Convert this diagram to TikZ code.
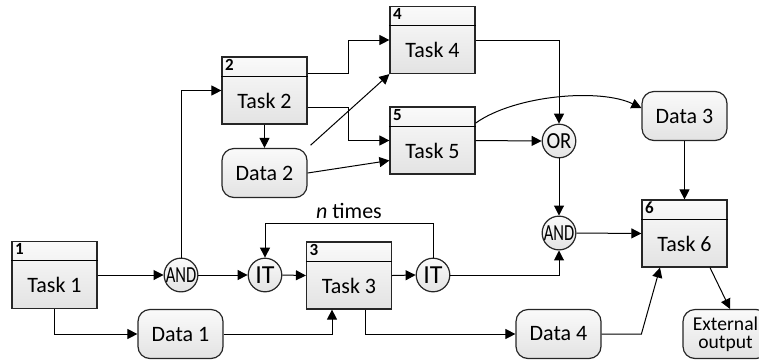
\documentclass[tikz,border=0pt]{standalone}
\usepackage{fontspec}
\setmainfont{Carlito}
\usepackage{graphicx}
\usetikzlibrary{calc,arrows.meta}

\tikzset{
  box/.style={draw=black!85, line width=0.6pt, top color=gray!4, bottom color=gray!22},
  task/.style={box, minimum width=42.5pt, minimum height=33.5pt, inner sep=0pt},
  data/.style={box, rounded corners=6pt, minimum width=42.5pt, minimum height=24.5pt,
    inner sep=0pt, align=center, font=\fontsize{11}{9.5}\selectfont},
  gate/.style={box, circle, minimum size=16.8pt, inner sep=0pt, font=\fontsize{11.5}{12}\selectfont},
  arr/.style={-{Triangle[length=5pt,width=5pt]}, line width=0.5pt},
}

% task box: name, position, number, text
\newcommand{\tasknode}[4]{%
  \node[task] (#1) at (#2) {};
  \draw[line width=0.5pt] ([yshift=-10pt]#1.north west) -- ([yshift=-10pt]#1.north east);
  \node[anchor=north west, inner xsep=1.6pt, inner ysep=1.2pt, font=\bfseries\fontsize{8.5}{9}\selectfont] (#1-num) at (#1.north west) {#3};
  \node[font=\fontsize{11}{12}\selectfont] (#1-txt) at ([yshift=-5pt]#1.center) {#4};
}

\begin{document}
\begin{tikzpicture}[x=0.5pt,y=-0.5pt]
\useasboundingbox (0,0) rectangle (759,360);

% tasks
\tasknode{t1}{54.5,275}{1}{Task 1}
\tasknode{t2}{264.5,90.5}{2}{Task 2}
\tasknode{t3}{349,275.5}{3}{Task 3}
\tasknode{t4}{432.5,40}{4}{Task 4}
\tasknode{t5}{432.5,140.5}{5}{Task 5}
\tasknode{t6}{684.5,233.5}{6}{Task 6}

% data
\node[data] (d1) at (180.5,334) {Data 1};
\node[data] (d2) at (264.5,173) {Data 2};
\node[data] (d3) at (684.5,116) {Data 3};
\node[data] (d4) at (558.5,334) {Data 4};
\node[data, font=\fontsize{9.8}{9}\selectfont] (ext) at (725.5,334) {External\\output};

% gates
\node[gate] (and1) at (181,275) {\scalebox{0.72}[1]{AND}};
\node[gate] (it1) at (265,275) {\fontsize{13}{13}\selectfont IT};
\node[gate] (it2) at (433,275) {\fontsize{13}{13}\selectfont IT};
\node[gate] (or) at (559,141) {\scalebox{0.9}[1]{OR}};
\node[gate] (and2) at (559,233) {\scalebox{0.72}[1]{AND}};

% connectors
\draw[arr] (t1.east) -- (and1.west);
\draw[arr] (t1.south) |- (d1.west);
\draw[arr] (d1.east) -| ($(t3.south)+(-17,0)$);
\draw[arr] ($(t3.south)+(16,0)$) |- (d4.west);
\draw[arr] (d4.east) -- (d4.east -| t6.west) -- ($(t6.south)+(-24.5,0)$);
\draw[arr] ($(t6.south)+(25.5,0)$) -- ($(ext.north)+(4.5,0)$);
\draw[arr] (and1.north) |- (t2.west);
\draw[arr] (and1.east) -- (it1.west);
\draw[arr] (it1.east) -- (t3.west);
\draw[arr] (t3.east) -- (it2.west);
\draw[arr] (it2.north) -- ++(0,-34) -| node[pos=0.25,above,inner sep=2pt,font=\fontsize{11}{12}\selectfont] {\textit{n} times} (it1.north);
\draw[arr] (it2.east) -| (and2.south);
\draw[arr] (and2.east) -- (t6.west);
\draw[arr] (or.south) -- (and2.north);
\draw[arr] (t4.east) -| (or.north);
\draw[arr] (t5.east) -- (or.west);
\draw[arr] (t5.22) .. controls (515,95) and (600,88) .. ($(d3.west)+(0,-8)$);
\draw[arr] (d3.south) -- (t6.north);
\draw[arr] ($(t2.east)+(0,-17.5)$) -- ++(41,0) |- (t4.west);
\draw[arr] ($(t2.east)+(0,16.5)$) -- ++(41,0) |- (t5.west);
\draw[arr] (t2.south) -- (d2.north);
\draw[arr, shorten <=2pt] (d2.north east) -- (t4.south west);
\draw[arr] (d2.east) -- ($(t5.west)+(0,20)$);
\end{tikzpicture}
\end{document}
